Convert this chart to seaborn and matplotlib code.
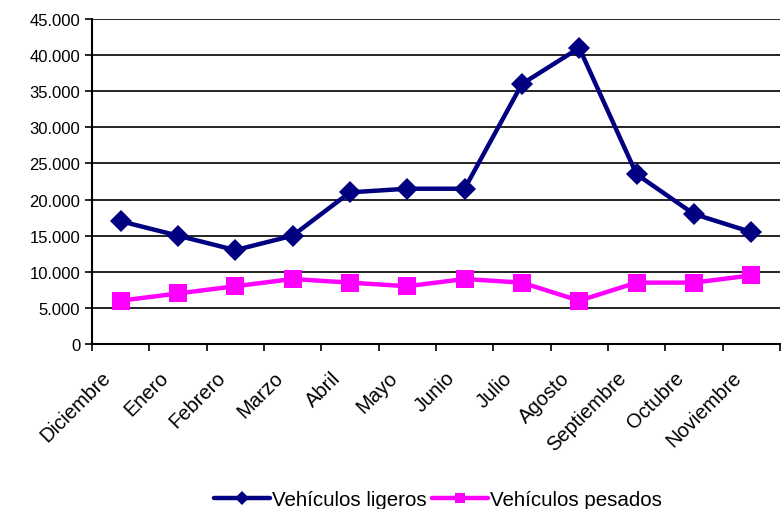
import numpy as np
import pandas as pd
import seaborn as sns
import matplotlib.pyplot as plt
import matplotlib.transforms as mtrans
from matplotlib.ticker import FuncFormatter, FixedLocator

sns.set_theme(style="white")
plt.rcParams['font.family'] = ['Liberation Sans', 'DejaVu Sans']
plt.rcParams.update({"text.color": "black", "xtick.color": "black",
                     "ytick.color": "black", "axes.labelcolor": "black"})

meses = ["Diciembre", "Enero", "Febrero", "Marzo", "Abril", "Mayo", "Junio",
         "Julio", "Agosto", "Septiembre", "Octubre", "Noviembre"]
ligeros = [17000, 15000, 13000, 15000, 21000, 21500, 21500,
           36000, 41000, 23500, 18000, 15500]
pesados = [6000, 7000, 8000, 9000, 8500, 8000, 9000,
           8500, 6000, 8500, 8500, 9500]

df = pd.DataFrame({
    "mes": meses * 2,
    "valor": ligeros + pesados,
    "serie": ["Vehículos ligeros"] * 12 + ["Vehículos pesados"] * 12,
})

fig = plt.figure(figsize=(7.83, 5.10), dpi=100)
ax = fig.add_axes([0.1175, 0.3235, 0.8785, 0.6373])

sns.lineplot(data=df, x="mes", y="valor", hue="serie", style="serie",
             palette=["#000080", "#FF00FF"], markers=["D", "s"], dashes=False,
             markersize=11, linewidth=3.2, markeredgewidth=0, sort=False, ax=ax)
# square markers a bit bigger than diamonds
for line, ms in zip(ax.lines, [11, 13]):
    line.set_markersize(ms)

ax.set_xlim(-0.5, 11.5)
ax.set_ylim(0, 45000)
ax.set_yticks(np.arange(0, 45001, 5000))
ax.yaxis.set_major_formatter(FuncFormatter(lambda v, p: f"{int(v):,}".replace(",", ".")))
ax.grid(axis="y", color="black", linewidth=1.2)
ax.set_axisbelow(True)

ax.xaxis.set_minor_locator(FixedLocator(np.arange(-0.5, 12, 1)))
ax.tick_params(axis="x", which="major", length=0, labelsize=14.5, pad=17)
ax.tick_params(axis="x", which="minor", length=5, width=1.2, color="black", direction="out", bottom=True)
ax.tick_params(axis="y", length=5, width=1.2, color="black", direction="out", left=True, labelsize=12)
shift = mtrans.ScaledTranslation(-14 / 72, 0, fig.dpi_scale_trans)
for lab in ax.get_xticklabels():
    lab.set_rotation(45)
    lab.set_ha("right")
    lab.set_rotation_mode("anchor")
    lab.set_transform(lab.get_transform() + shift)

for s in ["top", "right"]:
    ax.spines[s].set_visible(False)
for s in ["left", "bottom"]:
    ax.spines[s].set_color("black")
    ax.spines[s].set_linewidth(1.5)

ax.set_xlabel("")
ax.set_ylabel("")
leg = ax.legend(title=None, loc="center", bbox_to_anchor=(0.503, -0.478), ncol=2,
                frameon=False, fontsize=14.8, handlelength=2.7, columnspacing=0.3,
                handletextpad=0.1, markerscale=0.65)
for h in leg.legend_handles:
    h.set_linewidth(3.2)

fig.savefig("out.png", dpi=100)
